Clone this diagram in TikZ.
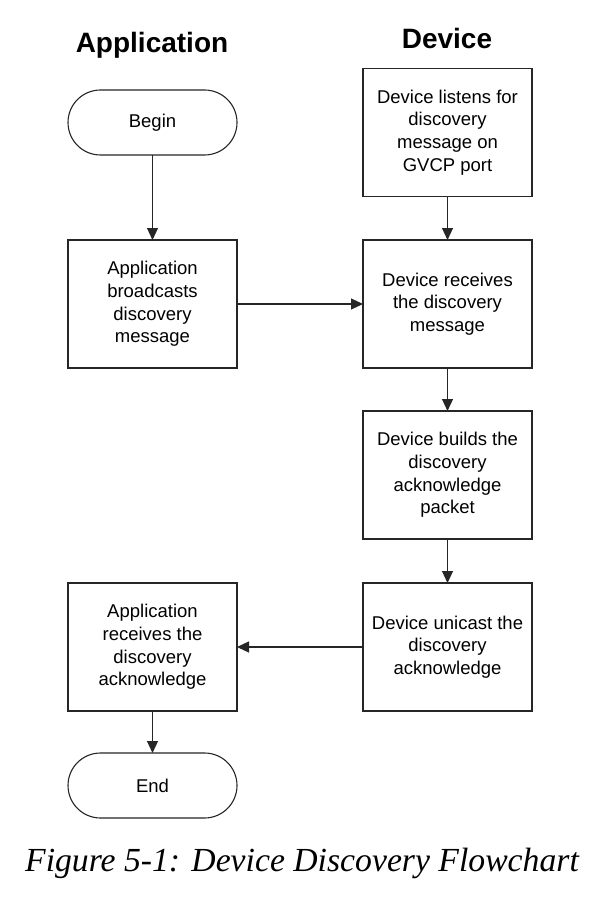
\documentclass[tikz,border=0pt]{standalone}
\usepackage{fontspec}
\setmainfont{Liberation Sans}
\newfontfamily\capfont{Liberation Serif}
\usetikzlibrary{arrows.meta}
\begin{document}
\begin{tikzpicture}[x=1pt,y=-1pt,
  every node/.style={inner sep=0pt,outer sep=0pt},
  procbox/.style={draw=black!85,line width=1.1pt,minimum width=169pt,minimum height=128pt,align=center,font=\fontsize{18.5}{22.7}\selectfont},
  termbox/.style={draw=black!85,line width=1.1pt,minimum width=169pt,minimum height=65pt,rounded corners=32.5pt,font=\fontsize{18.5}{22.7}\selectfont},
  hdr/.style={font=\fontsize{28}{34}\selectfont\bfseries,anchor=base},
  flow/.style={draw=black!85,line width=1.1pt,-{Triangle[length=12pt,width=11pt]}}]
\useasboundingbox (0,0) rectangle (604,920);
\fill[white] (0,0) rectangle (604,920);
\node[hdr] (happ) at (152,53) {Application};
\node[hdr] (hdev) at (447,49) {Device};
\node[termbox] (begin) at (152.5,122.5) {Begin};
\node[procbox] (a1) at (152.5,304) {Application\\broadcasts\\discovery\\message};
\node[procbox] (d1) at (447.5,132.5) {Device listens for\\discovery\\message on\\GVCP port};
\node[procbox] (d2) at (447.5,304) {Device receives\\the discovery\\message};
\node[procbox] (d3) at (447.5,475) {Device builds the\\discovery\\acknowledge\\packet};
\node[procbox] (d4) at (447.5,647) {Device unicast the\\discovery\\acknowledge};
\node[procbox] (a2) at (152.5,647) {Application\\receives the\\discovery\\acknowledge};
\node[termbox] (end) at (152.5,785.5) {End};
\node[anchor=base,font=\capfont\fontsize{33.7}{40}\selectfont\itshape] (cap) at (302,871) {Figure 5-1: Device Discovery Flowchart};
\draw[flow] (begin) -- (a1);
\draw[flow] (d1) -- (d2);
\draw[flow] (a1) -- (d2);
\draw[flow] (d2) -- (d3);
\draw[flow] (d3) -- (d4);
\draw[flow] (d4) -- (a2);
\draw[flow] (a2) -- (end);
\end{tikzpicture}
\end{document}
